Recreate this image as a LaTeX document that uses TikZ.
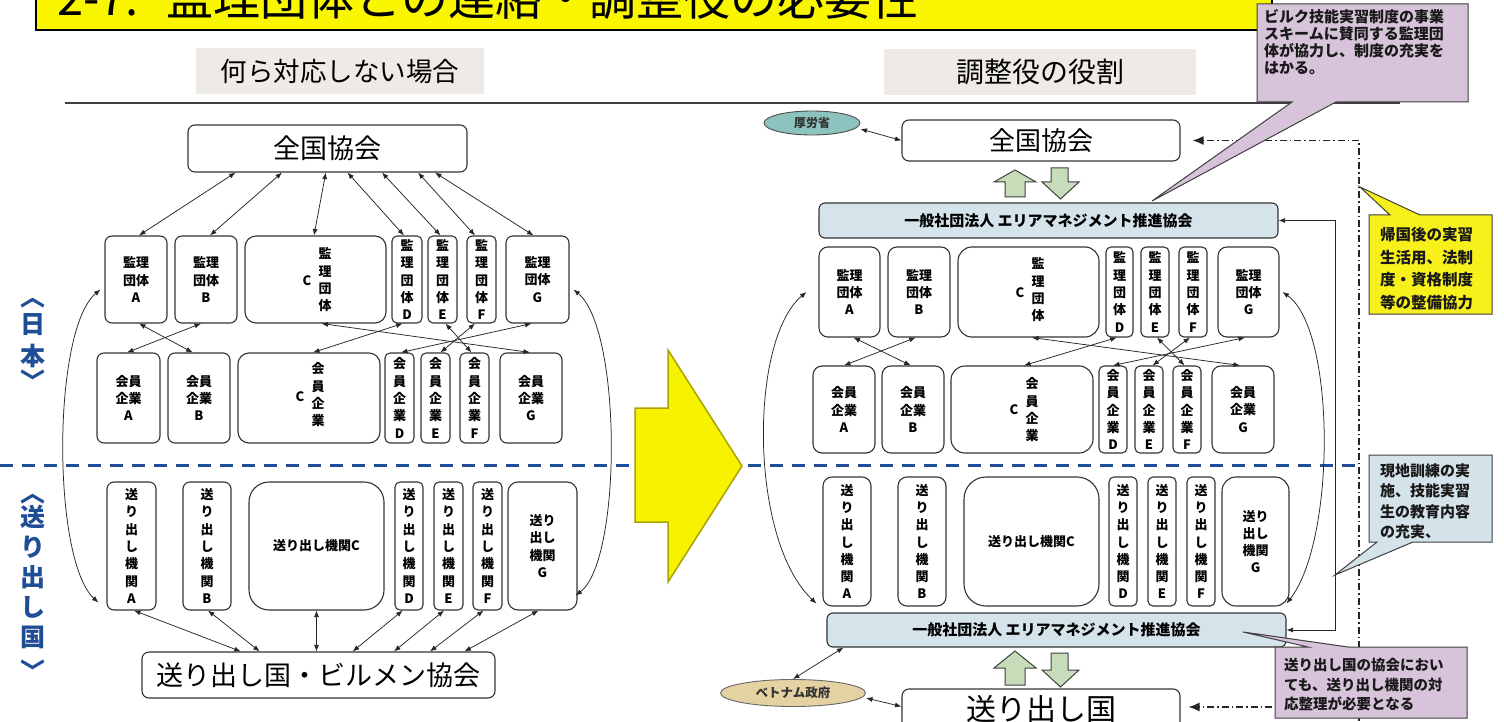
\documentclass[tikz,border=0pt]{standalone}
\usepackage{fontspec}
\setmainfont{Noto Sans CJK JP}
\usetikzlibrary{arrows.meta,calc,shapes.geometric}
\definecolor{boxc}{HTML}{333333}
\definecolor{barc}{HTML}{D5E3EB}
\definecolor{pinkc}{HTML}{D8C4DA}
\definecolor{ylw}{HTML}{F6F200}
\definecolor{ylwd}{HTML}{A9A400}
\definecolor{jpblue}{HTML}{1F4E97}
\definecolor{hdr}{HTML}{EEEAE5}
\definecolor{grn}{HTML}{C7DCB8}
\definecolor{mhlwc}{HTML}{8DC3BE}
\definecolor{vietc}{HTML}{E5D2A2}
\definecolor{titley}{HTML}{FAF600}
\definecolor{callb}{HTML}{D4E2EA}
\definecolor{cally}{HTML}{F7F01A}
\newcommand{\lbl}{\fontsize{13}{17.3}\selectfont\bfseries}
\newcommand{\bx}[7]{\node[#6, minimum width={(#4-#2)*1pt}, minimum height={(#5-#3)*1pt}] (#1) at ({(#2+#4)/2},{(#3+#5)/2}) {#7};}
\begin{document}
\begin{tikzpicture}[x=1pt,y=-1pt,
  box/.style={draw=boxc,line width=1.1pt,rounded corners=7pt,fill=white,inner sep=0pt,align=center,font=\lbl},
  bar/.style={draw=boxc,line width=1.1pt,rounded corners=6pt,fill=barc,inner sep=0pt,font=\fontsize{15}{18}\selectfont\bfseries},
  lab/.style={inner sep=0pt,align=center,font=\lbl},
  side/.style={inner sep=0pt,align=center,text=jpblue,font=\fontsize{25}{30}\selectfont\bfseries},
  brk/.style={inner sep=0pt,text=jpblue,font=\fontsize{25}{30}\selectfont\bfseries,rotate=-90},
  arr/.style={draw=black!85,line width=0.75pt,{Latex[length=6.5pt,width=5pt]}-{Latex[length=6.5pt,width=5pt]}},
  dd/.style={draw=black!85,line width=1.3pt,dash pattern=on 7pt off 3pt on 1.5pt off 3pt},
  blk/.style={draw=black!75,line width=1pt,fill=grn,line join=miter},
  call/.style={draw=black!75,line width=1pt,line join=miter},
  ctext/.style={anchor=north west,inner sep=0pt,align=left,font=\fontsize{15}{17}\selectfont\bfseries,text=black!90},
]
\useasboundingbox (0,0) rectangle (1504,722);
\fill[white] (0,0) rectangle (1504,722);

% title
\draw[fill=titley,draw=black,line width=1.3pt] (36,-20) rectangle (1272,30);
\node[anchor=base west,inner sep=0pt,font=\fontsize{47}{50}\selectfont] (title) at (57,16) {2-7.\hspace{28pt}監理団体との連絡・調整役の必要性};

% headers
\node[fill=hdr,minimum width=288pt,minimum height=46pt,inner sep=0pt,font=\fontsize{26.5}{28}\selectfont] (hL) at (340,71) {何ら対応しない場合};
\node[fill=hdr,minimum width=312pt,minimum height=46pt,inner sep=0pt,font=\fontsize{28}{30}\selectfont] (hR) at (1040,72) {調整役の役割};
\draw[line width=1.3pt,draw=black!75] (65,103) -- (1400,103);

% dashed border line
\draw[jpblue,line width=3pt,dash pattern=on 13pt off 9pt] (0,465) -- (1359,465);

% big yellow arrow
\draw[fill=ylw,draw=ylwd,line width=1.5pt,line join=miter] (635,408) -- (668,408) -- (668,350) -- (742,466) -- (668,582) -- (668,522) -- (635,522) -- cycle;

% side labels
\node[brk] (jpnO) at (33,297) {〈};
\node[side,font=\fontsize{25}{32}\selectfont\bfseries] (jpn) at (33,341) {日\\本};
\node[brk] (jpnC) at (33,381) {〉};
\node[brk] (sndO) at (33,493) {〈};
\node[side,font=\fontsize{25}{30}\selectfont\bfseries] (snd) at (33,577) {送\\り\\出\\し\\国};
\node[brk] (sndC) at (33,671) {〉};

%================ LEFT =================
\bx{zkL}{188}{125}{467}{172}{box,font=\fontsize{27}{30}\selectfont}{全国協会}
\bx{kA}{105}{236}{167}{323}{box}{監理\\団体\\A}
\bx{kB}{175}{236}{237}{323}{box}{監理\\団体\\B}
\bx{kC}{245}{236}{386}{323}{box,rounded corners=11pt}{}
\node[lab] (kCt) at (325,280) {監\\理\\団\\体};
\node[lab] (kCc) at (307,281) {C};
\bx{kD}{392}{236}{422}{323}{box,rounded corners=5pt}{監\\理\\団\\体\\D}
\bx{kE}{428}{236}{457}{323}{box,rounded corners=5pt}{監\\理\\団\\体\\E}
\bx{kF}{467}{236}{496}{323}{box,rounded corners=5pt}{監\\理\\団\\体\\F}
\bx{kG}{506}{236}{569}{323}{box}{監理\\団体\\G}

\bx{kiA}{97}{353}{160}{443}{box}{会員\\企業\\A}
\bx{kiB}{168}{353}{230}{443}{box}{会員\\企業\\B}
\bx{kiC}{238}{353}{380}{443}{box,rounded corners=11pt}{}
\node[lab] (kiCt) at (318,395) {会\\員\\企\\業};
\node[lab] (kiCc) at (300,397) {C};
\bx{kiD}{385}{353}{414}{443}{box,rounded corners=5pt}{会\\員\\企\\業\\D}
\bx{kiE}{421}{353}{450}{443}{box,rounded corners=5pt}{会\\員\\企\\業\\E}
\bx{kiF}{460}{353}{489}{443}{box,rounded corners=5pt}{会\\員\\企\\業\\F}
\bx{kiG}{500}{353}{562}{443}{box}{会員\\企業\\G}

\bx{okA}{107}{482}{156}{610}{box}{送\\り\\出\\し\\機\\関\\A}
\bx{okB}{183}{482}{231}{610}{box}{送\\り\\出\\し\\機\\関\\B}
\bx{okC}{249}{482}{384}{610}{box,rounded corners=20pt}{送り出し機関C}
\bx{okD}{395}{482}{423}{610}{box,rounded corners=5pt}{送\\り\\出\\し\\機\\関\\D}
\bx{okE}{434}{482}{463}{610}{box,rounded corners=5pt}{送\\り\\出\\し\\機\\関\\E}
\bx{okF}{473}{482}{502}{610}{box,rounded corners=5pt}{送\\り\\出\\し\\機\\関\\F}
\bx{okG}{508}{482}{577}{610}{box,rounded corners=10pt}{送り\\出し\\機関\\G}
\bx{bmL}{142}{652}{495}{698}{box,font=\fontsize{27}{30}\selectfont}{送り出し国・ビルメン協会}

% top arrows
\draw[arr] ([xshift=-92pt]zkL.south) -- ([xshift=3pt]kA.north);
\draw[arr] ([xshift=-45.5pt]zkL.south) -- ([xshift=4pt]kB.north);
\draw[arr] ([xshift=-1.7pt]zkL.south) -- ([xshift=-1.5pt]kC.north);
\draw[arr] ([xshift=20pt]zkL.south) -- ([xshift=-3pt]kD.north);
\draw[arr] ([xshift=54.5pt]zkL.south) -- ([xshift=-2pt]kE.north);
\draw[arr] ([xshift=90.5pt]zkL.south) -- ([xshift=-6.5pt]kF.north);
\draw[arr] ([xshift=107.5pt]zkL.south) -- ([xshift=-4pt]kG.north);
% cross arrows
\draw[arr] ([xshift=3pt]kA.south) -- ([xshift=-6.4pt]kiB.north);
\draw[arr] ([xshift=-5pt]kB.south) -- ([xshift=-1.5pt]kiA.north);
\draw[arr] ([xshift=6pt]kC.south) -- ([xshift=-1pt]kiG.north);
\draw[arr] ([xshift=-4.4pt]kD.south) -- ([xshift=4pt]kiC.north);
\draw[arr] ([xshift=3pt]kE.south) -- ([xshift=-3pt]kiF.north);
\draw[arr] ([xshift=-6.5pt]kF.south) -- ([xshift=5pt]kiE.north);
\draw[arr] ([xshift=-6pt]kG.south) -- ([xshift=1.5pt]kiD.north);
% bottom arrows
\draw[arr] ([xshift=2.5pt]okA.south) -- ([xshift=-77.7pt]bmL.north);
\draw[arr] ([xshift=1pt]okB.south) -- ([xshift=-58.8pt]bmL.north);
\draw[arr] (okC.south) -- ([xshift=-2pt]bmL.north);
\draw[arr] ([xshift=-6.4pt]okD.south) -- ([xshift=34.2pt]bmL.north);
\draw[arr] ([xshift=-4.5pt]okE.south) -- ([xshift=75.5pt]bmL.north);
\draw[arr] ([xshift=-4pt]okF.south) -- ([xshift=111.5pt]bmL.north);
\draw[arr] ([xshift=-4pt]okG.south) -- ([xshift=146pt]bmL.north);
% side curves
\draw[arr] ([xshift=-4pt,yshift=-10pt]kA.west) .. controls (52,330) and (52,560) .. ([xshift=-8pt,yshift=8pt]okA.south west);
\draw[arr] ([xshift=4pt,yshift=-10pt]kG.east) .. controls (622,330) and (622,560) .. ([xshift=-2pt,yshift=15pt]okG.south east);

%================ RIGHT =================
\node[draw=black!70,line width=0.9pt,fill=mhlwc,ellipse,minimum width=96pt,minimum height=24pt,inner sep=0pt,font=\fontsize{12}{14}\selectfont\bfseries,text=black!80] (mhlw) at (812,123) {厚労省};
\bx{zkR}{902}{120}{1180}{161}{box,font=\fontsize{26}{28}\selectfont}{全国協会}
\bx{bar1}{819}{203}{1278}{238}{bar}{一般社団法人 エリアマネジメント推進協会}

\bx{rkA}{819}{247}{880}{337}{box,rounded corners=9pt}{監理\\団体\\A}
\bx{rkB}{888}{247}{950}{337}{box,rounded corners=9pt}{監理\\団体\\B}
\bx{rkC}{958}{247}{1099}{337}{box,rounded corners=14pt}{}
\node[lab] (rkCt) at (1038,290) {監\\理\\団\\体};
\node[lab] (rkCc) at (1020,293) {C};
\bx{rkD}{1106}{247}{1133}{337}{box,rounded corners=5pt}{監\\理\\団\\体\\D}
\bx{rkE}{1141}{247}{1169}{337}{box,rounded corners=5pt}{監\\理\\団\\体\\E}
\bx{rkF}{1179}{247}{1207}{337}{box,rounded corners=5pt}{監\\理\\団\\体\\F}
\bx{rkG}{1218}{247}{1279}{337}{box,rounded corners=9pt}{監理\\団体\\G}

\bx{rkiA}{813}{366}{875}{453}{box,rounded corners=9pt}{会員\\企業\\A}
\bx{rkiB}{882}{366}{944}{453}{box,rounded corners=9pt}{会員\\企業\\B}
\bx{rkiC}{951}{366}{1093}{453}{box,rounded corners=14pt}{}
\node[lab] (rkiCt) at (1032,410) {会\\員\\企\\業};
\node[lab] (rkiCc) at (1014,410) {C};
\bx{rkiD}{1099}{366}{1127}{453}{box,rounded corners=5pt}{会\\員\\企\\業\\D}
\bx{rkiE}{1135}{366}{1163}{453}{box,rounded corners=5pt}{会\\員\\企\\業\\E}
\bx{rkiF}{1173}{366}{1201}{453}{box,rounded corners=5pt}{会\\員\\企\\業\\F}
\bx{rkiG}{1212}{366}{1274}{453}{box,rounded corners=9pt}{会員\\企業\\G}

\bx{rokA}{823}{477}{871}{606}{box,rounded corners=9pt}{送\\り\\出\\し\\機\\関\\A}
\bx{rokB}{898}{477}{946}{606}{box,rounded corners=9pt}{送\\り\\出\\し\\機\\関\\B}
\bx{rokC}{964}{477}{1099}{606}{box,rounded corners=22pt}{送り出し機関C}
\bx{rokD}{1109}{477}{1137}{606}{box,rounded corners=5pt}{送\\り\\出\\し\\機\\関\\D}
\bx{rokE}{1148}{477}{1176}{606}{box,rounded corners=5pt}{送\\り\\出\\し\\機\\関\\E}
\bx{rokF}{1187}{477}{1215}{606}{box,rounded corners=5pt}{送\\り\\出\\し\\機\\関\\F}
\bx{rokG}{1222}{477}{1289}{606}{box,rounded corners=14pt}{送り\\出し\\機関\\G}
\bx{bar2}{827}{613}{1286}{647}{bar}{一般社団法人 エリアマネジメント推進協会}

\bx{okR}{902}{689}{1180}{740}{box}{}
\node[inner sep=0pt,font=\fontsize{30}{32}\selectfont] (okRt) at (1041,709) {送り出し国};
\node[draw=black!60,line width=0.9pt,fill=vietc,ellipse,minimum width=145pt,minimum height=27pt,inner sep=0pt,font=\fontsize{12.5}{14}\selectfont\bfseries,text=black!80] (viet) at (793,693) {ベトナム政府};

% block arrows
\draw[blk] (1015,170) -- (1036,182) -- (1025,182) -- (1025,197) -- (1005,197) -- (1005,182) -- (994,182) -- cycle;
\draw[blk] (1051,168) -- (1068,168) -- (1068,182) -- (1079,182) -- (1060.5,199) -- (1042,182) -- (1051,182) -- cycle;
\draw[blk] (1015,651) -- (1036,668) -- (1025,668) -- (1025,685) -- (1005,685) -- (1005,668) -- (994,668) -- cycle;
\draw[blk] (1051,653) -- (1068,653) -- (1068,670) -- (1079,670) -- (1060.5,687) -- (1042,670) -- (1051,670) -- cycle;

% right arrows
\draw[arr] ([yshift=-6pt]mhlw.east) -- (zkR.west);
\draw[arr] (viet.north) -- ([xshift=17pt]bar2.south west);
\draw[arr] ([yshift=-5pt]viet.east) -- ([yshift=8pt]okR.west);

\draw[arr] ([xshift=4pt]rkA.south) -- ([xshift=-2.3pt]rkiB.north);
\draw[arr] ([xshift=-3.3pt]rkB.south) -- (rkiA.north);
\draw[arr] ([xshift=3.5pt]rkC.south) -- ([xshift=-3pt]rkiG.north);
\draw[arr] ([xshift=-2.7pt]rkD.south) -- ([xshift=2pt]rkiC.north);
\draw[arr] ([xshift=2pt]rkE.south) -- ([xshift=-2.4pt]rkiF.north);
\draw[arr] ([xshift=-3pt]rkF.south) -- ([xshift=3.5pt]rkiE.north);
\draw[arr] ([xshift=-3.5pt]rkG.south) -- (rkiD.north);

\draw[arr] ([xshift=-12pt]rkA.west) .. controls (749,340) and (749,540) .. ([xshift=-6pt,yshift=3pt]rokA.south west);
\draw[arr] ([xshift=3pt]rkG.east) .. controls (1336,330) and (1336,540) .. ([xshift=-3pt,yshift=3pt]rokG.south east);

% bracket line between bars
\coordinate (brT) at (1335,220.5);
\draw[arr] (bar1.east) -- (brT) |- (bar2.east);

% dash-dot line
\coordinate (ddTop) at (1359,140.5);
\coordinate (ddBot) at (1359,735);
\coordinate (ddMid) at (1359,707);
\draw[dd] (ddBot) -- (ddTop);
\draw[dd,-{Latex[length=11pt,width=9pt]},shorten >=12pt] (ddTop) -- (zkR.east);
\draw[dd,-{Latex[length=11pt,width=9pt]},shorten >=8pt] (ddMid) -- (okR.east |- ddMid);

%================ CALLOUTS =================
\draw[call,fill=pinkc] (1257,4) -- (1468,4) -- (1468,102) -- (1336,102) -- (1152,201) -- (1292,102) -- (1257,102) -- cycle;
\node[ctext] (c1) at (1264,9) {ビルク技能実習制度の事業\\スキームに賛同する監理団\\体が協力し、制度の充実を\\はかる。};

\draw[call,fill=cally] (1369,215) -- (1390,215) -- (1360,187) -- (1420,215) -- (1492,215) -- (1492,314) -- (1369,314) -- cycle;
\node[ctext,font=\fontsize{15.5}{22.5}\selectfont\bfseries] (c2) at (1380,227) {帰国後の実習\\生活用、法制\\度・資格制度\\等の整備協力};

\draw[call,fill=callb] (1369,455) -- (1492,455) -- (1492,542) -- (1413,542) -- (1335,575) -- (1377,542) -- (1369,542) -- cycle;
\node[ctext,font=\fontsize{15}{20.5}\selectfont\bfseries] (c3) at (1380,463) {現地訓練の実\\施、技能実習\\生の教育内容\\の充実、};

\draw[call,fill=pinkc] (1275,647) -- (1308,647) -- (1243,632) -- (1348,647) -- (1467,647) -- (1467,718) -- (1275,718) -- cycle;
\node[ctext,font=\fontsize{14.5}{19.5}\selectfont\bfseries] (c4) at (1284,658) {送り出し国の協会におい\\ても、送り出し機関の対\\応整理が必要となる};

\end{tikzpicture}
\end{document}
